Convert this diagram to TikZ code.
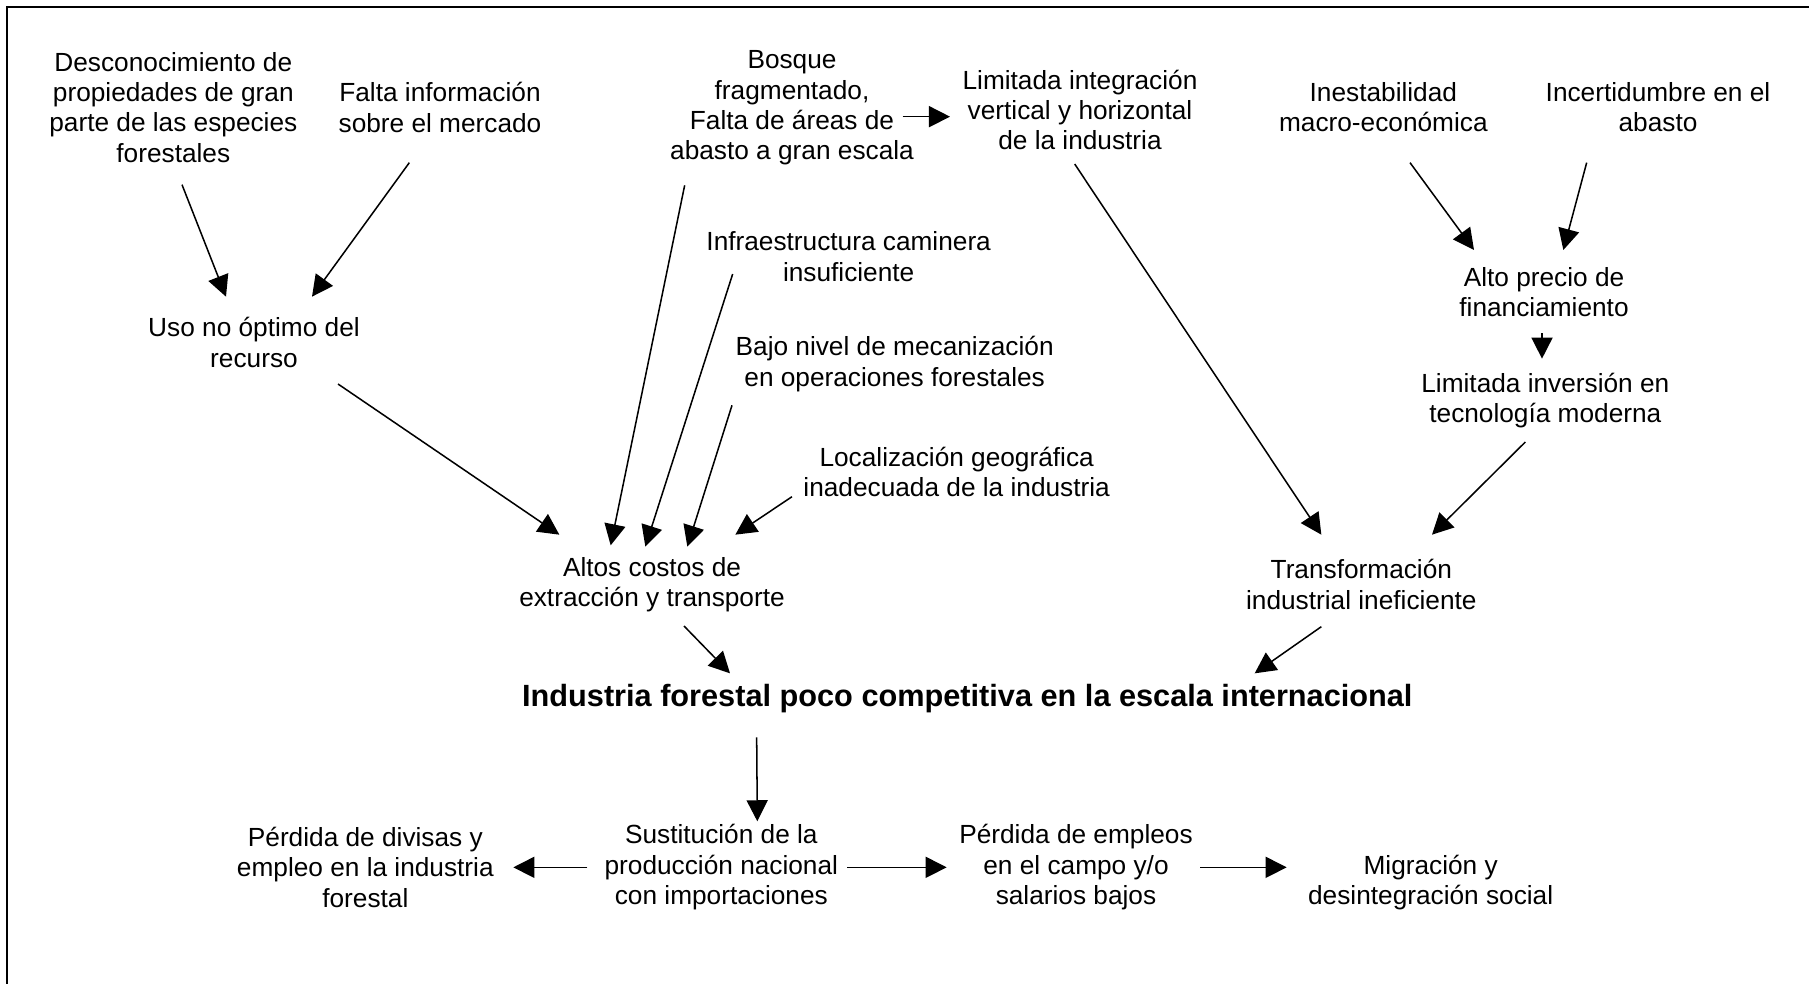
\documentclass[tikz,border=0pt]{standalone}
\usepackage{fontspec}
\setmainfont{Liberation Sans}
\usetikzlibrary{arrows.meta,positioning}
\tikzstyle{cause} = [align=center, inner sep=0pt, font=\fontsize{11.2}{13}\selectfont]
\tikzstyle{effect} = [cause]
\tikzstyle{problem} = [align=center, inner sep=0pt, font=\bfseries\fontsize{13.1}{15}\selectfont]
\tikzstyle{arrow} = [draw, line width=0.65pt, -{Triangle[length=9pt,width=9pt]}]
\tikzstyle{edgeline} = [draw, line width=1pt]
\newcommand{\cause}[2]{node (c#1) [cause] {#2}}
\newcommand{\effect}[2]{node (e#1) [effect] {#2}}
\newcommand{\problem}[2]{node (p#1) [problem] {#2}}

\begin{document}
\begin{tikzpicture}
\useasboundingbox (0,0) rectangle (27.135,-14.76);
\path [edgeline] (0.105,-14.76) -- (0.105,-0.105) -- (27.135,-0.105);

% Top row of causes
\path (2.60,-1.61) \cause{1}{Desconocimiento de\\propiedades de gran\\parte de las especies\\forestales};
\path (c1)+(4.00,0.0) \cause{2}{Falta información\\sobre el mercado};
\path (c2)+(5.28,-0.01) \cause{3}{Bosque\\fragmentado,\\Falta de áreas de\\abasto a gran escala};
\path (c3)+(4.32,-0.03) \cause{4}{Limitada integración\\vertical y horizontal\\de la industria};
\path (c4)+(4.55,0.04) \cause{5}{Inestabilidad\\macro-económica};
\path (c5)+(4.12,0.0) \cause{6}{Incertidumbre en el\\abasto};

% Middle causes
\path (c3)+(0.85,-2.23) \cause{7}{Infraestructura caminera\\insuficiente};
\path (c1)+(1.21,-3.53) \cause{8}{Uso no óptimo del\\recurso};
\path (c6)+(-1.71,-2.77) \cause{9}{Alto precio de\\financiamiento};
\path (c7)+(0.69,-1.61) \cause{10}{Bajo nivel de mecanización\\en operaciones forestales};
\path (c9)+(0.02,-1.63) \cause{11}{Limitada inversión en\\tecnología moderna};
\path (c10)+(0.93,-1.62) \cause{12}{Localización geográfica\\inadecuada de la industria};

% Direct causes and central problem
\path (c8)+(5.97,-3.63) \effect{1}{Altos costos de\\extracción y transporte};
\path (e1)+(10.64,0.0) \effect{2}{Transformación\\industrial ineficiente};
\path (e1)+(4.73,-1.71) \problem{1}{Industria forestal poco competitiva en la escala internacional};

% Effects
\path (e1)+(1.04,-4.24) \effect{3}{Sustitución de la\\producción nacional\\con importaciones};
\path (e3)+(-5.34,0.0) \effect{4}{Pérdida de divisas y\\empleo en la industria\\forestal};
\path (e3)+(5.32,0.0) \effect{5}{Pérdida de empleos\\en el campo y/o\\salarios bajos};
\path (e5)+(5.32,-0.23) \effect{6}{Migración y\\desintegración social};

\path [arrow] ([xshift=0.13cm,yshift=-1.16cm]c1.center) -- ([xshift=-0.42cm,yshift=0.69cm]c8.center);
\path [arrow] ([xshift=-0.46cm,yshift=-0.83cm]c2.center) -- ([xshift=0.87cm,yshift=0.69cm]c8.center);
\path [arrow] ([xshift=1.66cm,yshift=-0.13cm]c3.center) -- ([xshift=-1.95cm,yshift=-0.10cm]c4.center);
\path [arrow] ([xshift=-1.61cm,yshift=-1.16cm]c3.center) -- ([xshift=-0.62cm,yshift=0.59cm]e1.center);
\path [arrow] ([xshift=-1.74cm,yshift=-0.26cm]c7.center) -- ([xshift=-0.10cm,yshift=0.57cm]e1.center);
\path [arrow] ([xshift=-2.44cm,yshift=-0.62cm]c10.center) -- ([xshift=0.53cm,yshift=0.57cm]e1.center);
\path [arrow] ([xshift=-2.47cm,yshift=-0.37cm]c12.center) -- ([xshift=1.25cm,yshift=0.75cm]e1.center);
\path [arrow] ([xshift=1.26cm,yshift=-0.62cm]c8.center) -- ([xshift=-1.39cm,yshift=0.75cm]e1.center);
\path [arrow] ([xshift=-0.08cm,yshift=-0.81cm]c4.center) -- ([xshift=-0.60cm,yshift=0.75cm]e2.center);
\path [arrow] ([xshift=-0.30cm,yshift=-0.62cm]c11.center) -- ([xshift=1.06cm,yshift=0.75cm]e2.center);
\path [arrow] ([xshift=0.40cm,yshift=-0.83cm]c5.center) -- ([xshift=-1.05cm,yshift=0.63cm]c9.center);
\path [arrow] ([xshift=-1.07cm,yshift=-0.83cm]c6.center) -- ([xshift=0.29cm,yshift=0.63cm]c9.center);
\path [arrow] ([xshift=-0.03cm,yshift=-0.62cm]c9.center) -- ([xshift=-0.05cm,yshift=0.63cm]c11.center);
\path [arrow] ([xshift=0.48cm,yshift=-0.62cm]e1.center) -- ([xshift=-3.56cm,yshift=0.38cm]p1.center);
\path [arrow] ([xshift=-0.60cm,yshift=-0.63cm]e2.center) -- ([xshift=4.31cm,yshift=0.38cm]p1.center);
\path [arrow] ([xshift=-3.16cm,yshift=-0.58cm]p1.center) -- ([xshift=0.54cm,yshift=0.69cm]e3.center);
\path [arrow] ([xshift=-2.01cm]e3.center) -- ([xshift=2.22cm]e4.center);
\path [arrow] ([xshift=1.89cm]e3.center) -- ([xshift=-1.94cm]e5.center);
\path [arrow] ([xshift=1.86cm]e5.center) -- ([xshift=-2.16cm,yshift=0.23cm]e6.center);
\end{tikzpicture}
\end{document}
